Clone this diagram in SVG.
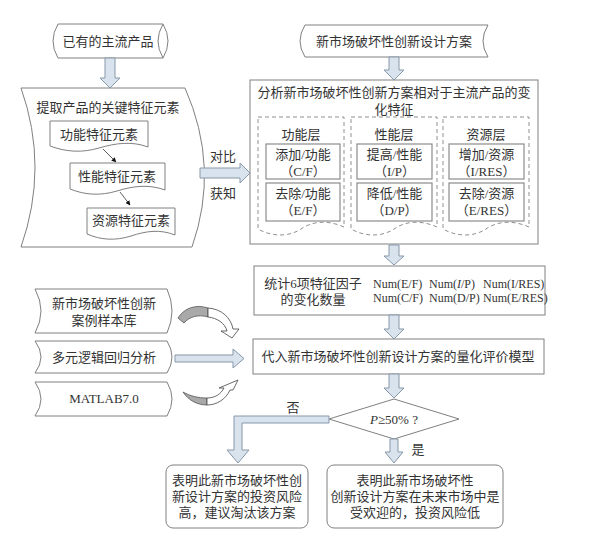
<svg xmlns="http://www.w3.org/2000/svg" width="591" height="541" viewBox="0 0 591 541">
<style>
.s{fill:#fff;stroke:#808080;stroke-width:1}
.d{fill:#fff;stroke:#909090;stroke-width:1;stroke-dasharray:4 3}
.ib{fill:#fff;stroke:#8c8c8c;stroke-width:1.2}
.ba{fill:#d8e3ee;stroke:#8797a8;stroke-width:1}
text{font-family:"Liberation Serif","Noto Sans CJK SC",serif;font-size:13px;fill:#333}
.c{text-anchor:middle}
.n{font-size:12px}
.ln{stroke:#333;stroke-width:0.8;fill:none}
</style>
<defs>
<marker id="ah" viewBox="0 0 10 10" refX="9" refY="5" markerWidth="6" markerHeight="6" orient="auto">
<path d="M0,0 L10,5 L0,10 Z" fill="#111"/>
</marker>
</defs>
<rect width="591" height="541" fill="#fff"/>

<g id="n-existing">
<path class="s" d="M58,24 L163,24 Q173,41 163,58 L58,58 Q48,41 58,24 Z"/>
<path class="s" d="M163,24 Q153,41 163,58"/>
<text class="c" x="108" y="46">已有的主流产品</text>
</g>

<g id="n-newscheme">
<path class="s" d="M305,25 L488,25 Q478,41 488,57 L305,57 Q295,41 305,25 Z"/>
<text class="c" x="394" y="46">新市场破坏性创新设计方案</text>
</g>

<g id="n-extract">
<path class="s" d="M21,88 L185,88 Q220,167 192,247 L21,247 Q49,167 21,88 Z"/>
<text class="c" x="108" y="112">提取产品的关键特征元素</text>
</g>
<g id="n-func-elem">
<path class="s" d="M50,121 H148 V147 C132,141 116,143 99,148 C82,153 66,152 50,146 Z"/>
<text class="c" x="99" y="139">功能特征元素</text>
</g>
<g id="n-perf-elem">
<path class="s" d="M70,163 H165 V190 C149,184 133,186 117,191 C100,196 85,195 70,189 Z"/>
<text class="c" x="117" y="181">性能特征元素</text>
</g>
<g id="n-res-elem">
<path class="s" d="M87,208 H175 V235 C160,229 146,231 131,236 C115,241 101,240 87,234 Z"/>
<text class="c" x="131" y="225">资源特征元素</text>
</g>

<g id="n-analyze">
<rect class="s" x="250" y="80" width="288" height="164"/>
<text class="c" x="394" y="97">分析新市场破坏性创新方案相对于主流产品的变</text>
<text class="c" x="394" y="114">化特征</text>
</g>
<g id="n-func-layer">
<path class="d" d="M258,117 H344 V227 C326,219 311,222 301,229 C289,237 272,237 258,229 Z"/>
<text class="c" x="301" y="139">功能层</text>
<rect class="ib" x="266" y="144" width="74" height="35"/>
<text class="c" x="303" y="159">添加/功能</text>
<text class="c" x="303" y="176">（C/F）</text>
<rect class="ib" x="266" y="183" width="74" height="38"/>
<text class="c" x="303" y="198">去除/功能</text>
<text class="c" x="303" y="215">（E/F）</text>
</g>
<g id="n-perf-layer">
<path class="d" d="M351,117 H437 V227 C419,219 404,222 394,229 C382,237 365,237 351,229 Z"/>
<text class="c" x="394" y="139">性能层</text>
<rect class="ib" x="357" y="144" width="75" height="35"/>
<text class="c" x="394.5" y="159">提高/性能</text>
<text class="c" x="394.5" y="176">（I/P）</text>
<rect class="ib" x="357" y="183" width="75" height="38"/>
<text class="c" x="394.5" y="198">降低/性能</text>
<text class="c" x="394.5" y="215">（D/P）</text>
</g>
<g id="n-res-layer">
<path class="d" d="M443,117 H529 V227 C511,219 496,222 486,229 C474,237 457,237 443,229 Z"/>
<text class="c" x="486" y="139">资源层</text>
<rect class="ib" x="449" y="144" width="75" height="35"/>
<text class="c" x="486.5" y="159">增加/资源</text>
<text class="c" x="486.5" y="176">（I/RES）</text>
<rect class="ib" x="449" y="183" width="75" height="38"/>
<text class="c" x="486.5" y="198">去除/资源</text>
<text class="c" x="486.5" y="215">（E/RES）</text>
</g>

<g id="n-stats">
<rect class="s" x="254" y="266" width="291" height="49"/>
<text class="c" x="313" y="288">统计6项特征因子</text>
<text class="c" x="313" y="304">的变化数量</text>
<text class="n" x="373" y="288">Num(E/F)</text>
<text class="n" x="429" y="288">Num(<tspan font-style="italic">I</tspan>/P)</text>
<text class="n" x="483" y="288">Num(I/RES)</text>
<text class="n" x="373" y="302">Num(C/F)</text>
<text class="n" x="429" y="302">Num(D/P)</text>
<text class="n" x="483" y="302">Num(E/RES)</text>
</g>

<g id="n-model">
<rect class="s" x="253" y="339" width="291" height="35"/>
<text class="c" x="398" y="361">代入新市场破坏性创新设计方案的量化评价模型</text>
</g>

<g id="n-casebase">
<path class="s" d="M35,289 L167,289 Q177,311 167,333 L35,333 Q47,311 35,289 Z"/>
<text class="c" x="104" y="308">新市场破坏性创新</text>
<text class="c" x="104" y="325">案例样本库</text>
</g>
<g id="n-regression">
<path class="s" d="M35,341 L167,341 Q177,357 167,373 L35,373 Q47,357 35,341 Z"/>
<text class="c" x="104" y="362">多元逻辑回归分析</text>
</g>
<g id="n-matlab">
<path class="s" d="M35,382 L167,382 Q177,399 167,416 L35,416 Q47,399 35,382 Z"/>
<text class="c" x="104" y="403">MATLAB7.0</text>
</g>

<g id="n-decision">
<path class="s" d="M394,399 L459,419 L394,439 L329,419 Z"/>
<text class="c" x="394" y="424"><tspan font-style="italic">P</tspan>≥50% ?</text>
</g>

<g id="n-reject">
<rect class="s" x="166" y="465" width="142" height="63" rx="7"/>
<text class="c" x="237" y="485">表明此新市场破坏性创</text>
<text class="c" x="237" y="501">新设计方案的投资风险</text>
<text class="c" x="237" y="517">高，建议淘汰该方案</text>
</g>
<g id="n-accept">
<rect class="s" x="327" y="465" width="176" height="63" rx="7"/>
<text class="c" x="415" y="485">表明此新市场破坏性</text>
<text class="c" x="415" y="501">创新设计方案在未来市场中是</text>
<text class="c" x="415" y="517">受欢迎的，投资风险低</text>
</g>

<g id="connectors">
<polygon class="ba" points="105,58 115,58 115,78 120,78 110,88 100,78 105,78"/>
<polygon class="ba" points="389,57 399,57 399,70 404,70 394,80 384,70 389,70"/>
<polygon class="ba" points="389,245 399,245 399,256 404,256 394,265 384,256 389,256"/>
<polygon class="ba" points="389,315 399,315 399,329 404,329 394,339 384,329 389,329"/>
<polygon class="ba" points="389,374 399,374 399,388 404,388 394,398 384,388 389,388"/>
<polygon class="ba" points="200,168 240,168 240,163 250,173 240,183 240,178 200,178"/>
<polygon class="ba" points="175,355 233,355 233,349 244,358.5 233,368 233,362 175,362"/>
<polygon class="ba" points="329,416 234,416 234,450 227,450 238,463 249,450 242,450 242,423 329,423"/>
<polygon class="ba" points="390,439 398,439 398,452 403,452 394,463 385,452 390,452"/>
<path class="ln" d="M103,149 L116,162" marker-end="url(#ah)"/>
<path class="ln" d="M120,192 L130,205" marker-end="url(#ah)"/>
<text class="c" x="223" y="161">对比</text>
<text class="c" x="223" y="198">获知</text>
<text class="c" x="293" y="412">否</text>
<text class="c" x="418" y="454">是</text>
<path d="M178,318 C184,308 196,304 208,308 L208,317 C198,314 189,317 184,323 Z" fill="#a9a9a9" stroke="#555" stroke-width="0.8"/>
<path d="M208,308 C222,309 231,318 233,329 L239,329 L232,338 L221,331 L227,331 C225,323 217,318 208,317 Z" fill="#fff" stroke="#444" stroke-width="0.8"/>
<path d="M183,392 C189,401 198,405 207,405 L207,398 C198,398 190,396 183,392 Z" fill="#a9a9a9" stroke="#555" stroke-width="0.8"/>
<path d="M207,398 C215,398 221,394 224,388 L219,388 L238,380 L233,390 L230,390 C226,399 217,405 207,405 Z" fill="#fff" stroke="#444" stroke-width="0.8"/>
</g>
</svg>
